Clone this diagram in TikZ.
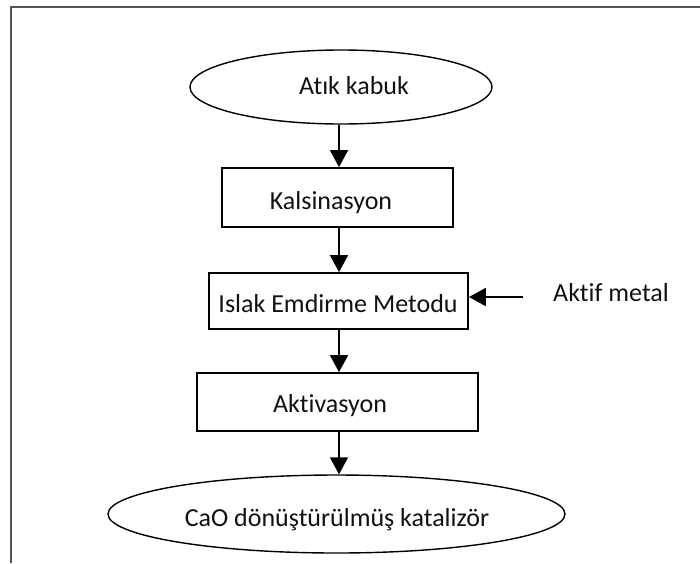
\documentclass[tikz,border=0pt]{standalone}
\usepackage{fontspec}
\setmainfont{Carlito}[Ligatures={NoCommon}]
\usetikzlibrary{arrows.meta,shapes.geometric}
\definecolor{framegray}{HTML}{555555}
\definecolor{txt}{HTML}{111111}
\begin{document}
\begin{tikzpicture}[x=1pt,y=-1pt,
  shapebox/.style={draw=black,line width=1.8pt,rectangle,inner sep=0pt},
  oval/.style={draw=black,line width=1.4pt,ellipse,inner sep=0pt},
  lbl/.style={text=txt,font=\fontsize{26}{30}\selectfont,inner sep=0pt,anchor=base},
  arr/.style={line width=1.8pt,-{Triangle[length=17pt,width=18pt]}}]
\useasboundingbox (0,0) rectangle (700,563);
% frame
\draw[framegray,line width=2pt] (11,563) -- (11,7) -- (700,7);
% shapes
\node[oval,minimum width=302pt,minimum height=74pt] (e1) at (341,87) {};
\node[shapebox,minimum width=231pt,minimum height=59pt] (kal) at (337.5,197.5) {};
\node[shapebox,minimum width=259pt,minimum height=56pt] (isl) at (338.5,301) {};
\node[shapebox,minimum width=281pt,minimum height=58pt] (akt) at (337.5,402) {};
\node[oval,minimum width=457pt,minimum height=78pt] (e2) at (336.5,514) {};
% texts
\node[lbl] (t1) at (354,94) {Atık kabuk};
\node[lbl] (t2) at (331,209) {Kalsinasyon};
\node[lbl] (t3) at (338,312) {Islak Emdirme Metodu};
\node[lbl] (t4) at (330,412) {Aktivasyon};
\node[lbl] (t5) at (337,526) {CaO dönüştürülmüş katalizör};
\node[lbl] (t6) at (611,301) {Aktif metal};
% connectors
\coordinate (ax) at (339,0);
\coordinate (am) at (523,297);
\draw[arr] (ax |- e1.south) -- (ax |- kal.north);
\draw[arr] (ax |- kal.south) -- (ax |- isl.north);
\draw[arr] (ax |- isl.south) -- (ax |- akt.north);
\draw[arr] (ax |- akt.south) -- (ax |- e2.north);
\draw[arr] (am) -- (am -| isl.east);
\end{tikzpicture}
\end{document}
